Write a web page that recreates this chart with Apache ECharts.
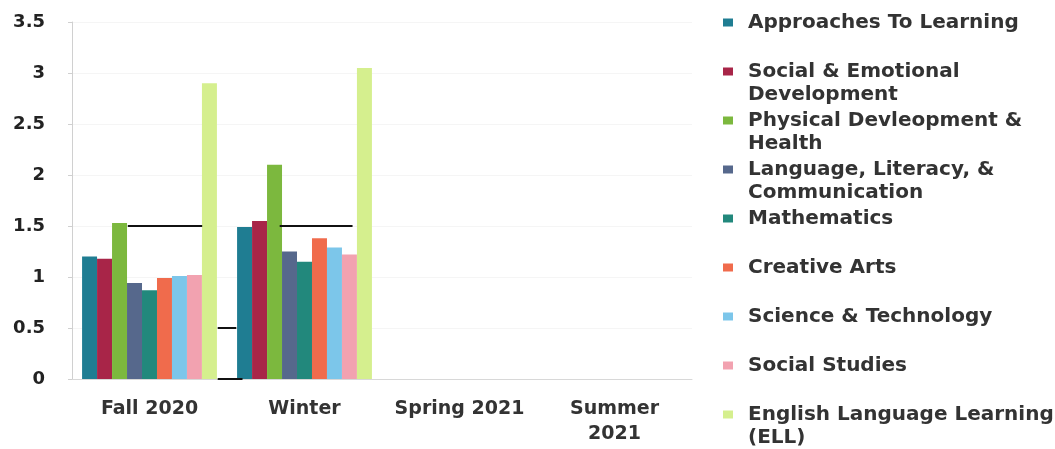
<!DOCTYPE html>
<html><head><meta charset="utf-8">
<script src="https://cdn.jsdelivr.net/npm/echarts@6/dist/echarts.min.js"></script>
<style>html,body{margin:0;padding:0;background:#fff;}#c{width:1055px;height:449px;}</style>
</head><body><div id="c"></div>
<script>
var categories = ['Fall 2020', 'Winter', 'Spring 2021', 'Summer\n2021'];
var seriesNames = ['Approaches To Learning', 'Social & Emotional Development', 'Physical Devleopment & Health', 'Language, Literacy, & Communication', 'Mathematics', 'Creative Arts', 'Science & Technology', 'Social Studies', 'English Language Learning (ELL)'];
var legendLabels = ['Approaches To Learning', 'Social & Emotional\nDevelopment', 'Physical Devleopment &\nHealth', 'Language, Literacy, &\nCommunication', 'Mathematics', 'Creative Arts', 'Science & Technology', 'Social Studies', 'English Language Learning\n(ELL)'];
var approaches = [1.2, 1.49, null, null];
var socialEmotional = [1.18, 1.55, null, null];
var physical = [1.53, 2.1, null, null];
var language = [0.94, 1.25, null, null];
var mathematics = [0.87, 1.15, null, null];
var creativeArts = [0.99, 1.38, null, null];
var science = [1.01, 1.29, null, null];
var socialStudies = [1.02, 1.22, null, null];
var ell = [2.9, 3.05, null, null];
var yTicks = [0, 0.5, 1, 1.5, 2, 2.5, 3, 3.5];
// stray black marker segments seen on the chart: [[x0,y],[x1,y]] in category-index units
var strayLines = [
  [[0.36, 1.5], [0.84, 1.5]],
  [[1.34, 1.5], [1.81, 1.5]],
  [[0.94, 0.5], [1.06, 0.5]],
  [[0.94, 0.0], [1.1, 0.0]]
];
var colors = ['#1f7d92', '#a82548', '#7cb83e', '#56688c', '#22887c', '#f06b4c', '#7cc6ea', '#f2a2b0', '#d5ef8e'];
var allValues = [approaches, socialEmotional, physical, language, mathematics, creativeArts, science, socialStudies, ell];

var chart = echarts.init(document.getElementById('c'));
var series = seriesNames.map(function (n, i) {
  return {
    name: n, type: 'bar', data: allValues[i], barGap: '0%', barCategoryGap: '13%',
    itemStyle: { color: colors[i] }, xAxisIndex: 0, yAxisIndex: 0
  };
});
strayLines.forEach(function (seg) {
  series.push({
    type: 'line', xAxisIndex: 1, yAxisIndex: 0, data: seg, symbol: 'none',
    lineStyle: { color: '#111', width: 2 }, silent: true, z: 5, legendHoverLink: false
  });
});

var LINE_H = 23, FIRST_C = 22, SLOT = 49;
var legends = seriesNames.map(function (n, i) {
  var lbl = legendLabels[i];
  var text = lbl.indexOf('\n') >= 0 ? '\u00a0\n' + lbl : lbl;
  var lines = text.split('\n').length;
  var center = FIRST_C + i * SLOT;
  return {
    orient: 'vertical', left: 723, top: Math.round(center - lines * LINE_H / 2),
    itemWidth: 10, itemHeight: 8, icon: 'rect', padding: 0,
    data: [n],
    formatter: function () { return text; },
    textStyle: {
      fontFamily: 'DejaVu Sans', fontWeight: 'bold', fontSize: 20, color: '#333',
      lineHeight: LINE_H, padding: [0, 0, 0, 10]
    }
  };
});

chart.setOption({
  animation: false,
  color: colors,
  grid: { left: 72, right: 363, top: 22, bottom: 70 },
  legend: legends,
  xAxis: [{
    type: 'category', data: categories,
    axisLine: { lineStyle: { color: '#d8d8d8' } },
    axisTick: { show: false },
    axisLabel: { interval: 0, hideOverlap: false, fontFamily: 'DejaVu Sans', fontWeight: 'bold', fontSize: 19, color: '#333', margin: 18, lineHeight: 25 }
  }, {
    type: 'value', min: 0, max: 4, show: false
  }],
  yAxis: {
    type: 'value', min: 0, max: 3.5, interval: 0.5,
    axisLine: { show: true, lineStyle: { color: '#d0d0d0' } },
    axisTick: { show: true, length: 4, lineStyle: { color: '#d0d0d0' } },
    splitLine: { show: true, lineStyle: { color: '#f5f5f5' } },
    axisLabel: {
      fontFamily: 'DejaVu Sans', fontWeight: 'bold', fontSize: 18, color: '#222', margin: 27,
      formatter: function (v) { return String(v); }
    }
  },
  series: series
});
</script></body></html>
